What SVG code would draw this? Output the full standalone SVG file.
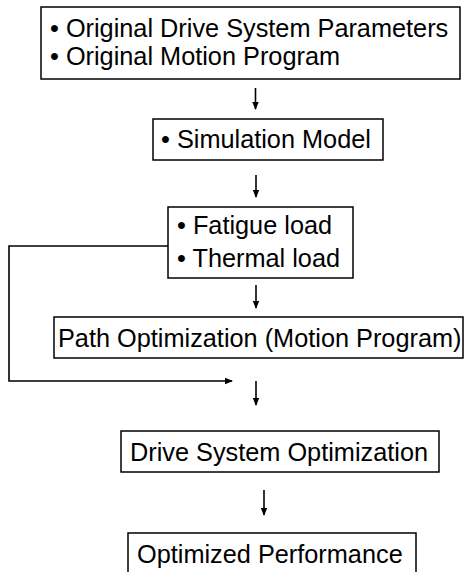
<svg xmlns="http://www.w3.org/2000/svg" width="472" height="572" viewBox="0 0 472 572">
  <style>
    .box { fill: #fff; stroke: #000; stroke-width: 1.5; }
    .t { font-family: "Liberation Sans", Arial, sans-serif; font-size: 25.3px; fill: #000; }
    .c { fill: none; stroke: #000; stroke-width: 1.6; }
  </style>
  <defs>
    <marker id="ah" markerWidth="8" markerHeight="8" refX="7" refY="4" orient="auto" markerUnits="userSpaceOnUse">
      <path d="M0,0.8 L8,4 L0,7.2 Z" fill="#000"/>
    </marker>
  </defs>
  <rect width="472" height="572" fill="#fff"/>

  <g id="connectors">
    <line class="c" x1="255.5" y1="88" x2="255.5" y2="109" marker-end="url(#ah)"/>
    <line class="c" x1="256" y1="175" x2="256" y2="197" marker-end="url(#ah)"/>
    <line class="c" x1="256" y1="285" x2="256" y2="308" marker-end="url(#ah)"/>
    <line class="c" x1="256" y1="381" x2="256" y2="405" marker-end="url(#ah)"/>
    <line class="c" x1="264" y1="490" x2="264" y2="515" marker-end="url(#ah)"/>
    <polyline class="c" points="168,246 9,246 9,381 232,381" marker-end="url(#ah)"/>
  </g>

  <g id="node-inputs">
    <rect class="box" x="41" y="7" width="419" height="72"/>
    <text class="t" x="50" y="37">• Original Drive System Parameters</text>
    <text class="t" x="50" y="65">• Original Motion Program</text>
  </g>

  <g id="node-simulation">
    <rect class="box" x="153" y="119" width="230" height="41"/>
    <text class="t" x="161" y="148">• Simulation Model</text>
  </g>

  <g id="node-loads">
    <rect class="box" x="168" y="207" width="185" height="71"/>
    <text class="t" x="177" y="234">• Fatigue load</text>
    <text class="t" x="177" y="267">• Thermal load</text>
  </g>

  <g id="node-path">
    <rect class="box" x="54" y="317" width="409" height="41"/>
    <text class="t" x="58" y="347">Path Optimization (Motion Program)</text>
  </g>

  <g id="node-drive">
    <rect class="box" x="121" y="431" width="318" height="41"/>
    <text class="t" x="130" y="461">Drive System Optimization</text>
  </g>

  <g id="node-result">
    <rect class="box" x="128" y="533" width="288" height="42"/>
    <text class="t" x="137" y="563">Optimized Performance</text>
  </g>
</svg>
